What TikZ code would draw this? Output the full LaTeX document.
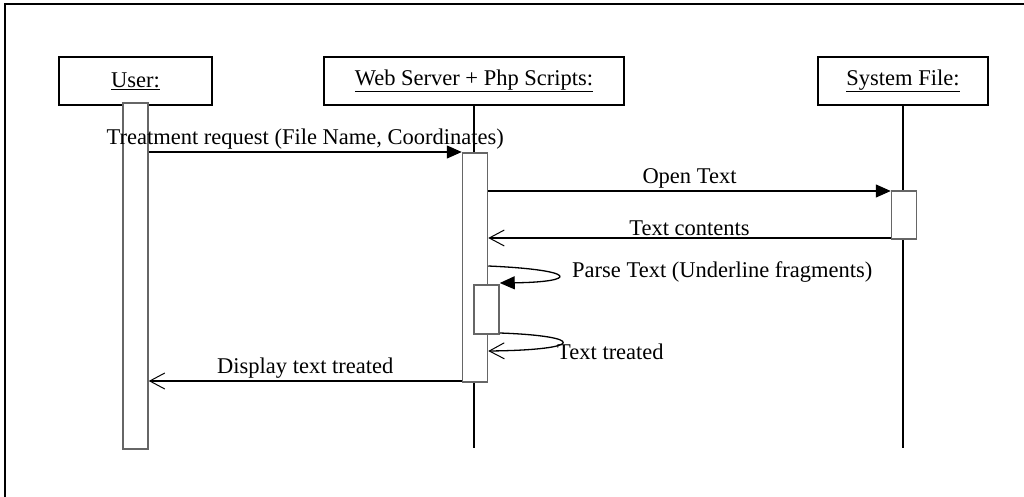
\documentclass[tikz,border=0pt]{standalone}
\usepackage{fontspec}
\setmainfont{Liberation Serif}
\usetikzlibrary{arrows.meta}
\tikzset{
  head/.style={draw,line width=1.5pt,minimum width=#1,minimum height=48pt,inner sep=0pt,font=\fontsize{22.5}{26}\selectfont},
  bar/.style={draw=black!60,fill=white,line width=1.5pt,minimum width=25pt,inner sep=0pt},
  life/.style={line width=2pt},
  call/.style={line width=1.3pt,-{Triangle[length=15pt,width=13pt]}},
  back/.style={line width=1.3pt,-{Straight Barb[length=15pt,width=16pt,line width=1pt]}},
  lbl/.style={font=\fontsize{22.5}{26}\selectfont,inner sep=2pt}
}
\begin{document}
\begin{tikzpicture}[x=1pt,y=-1pt]
    \useasboundingbox (0,0) rectangle (1024,497);
    % frame
    \draw[line width=2.5pt] (1024,4) -- (5,4) -- (5,497);

    \node[head=153pt] (user) at (135.5,81) {\underline{User:}};
    \node[head=300pt] (web) at (474,81) {\underline{Web Server + Php Scripts:}};
    \node[head=170pt] (sys) at (903,81) {\underline{System File:}};

    \coordinate (wend) at (474,448);
    \coordinate (send) at (903,448);
    \draw[life] (web.south) -- (wend);
    \draw[life] (sys.south) -- (send);

    \node[bar,minimum height=346pt] (ubar) at (135.5,276) {};
    \node[bar,minimum height=229pt] (wbar) at (475,267.5) {};
    \node[bar,minimum height=48pt] (sbar) at (904,215) {};
    \node[bar,minimum height=49pt] (nbar) at (486.5,309.5) {};

    \coordinate (m1) at (0,152);
    \coordinate (m2) at (0,191);
    \coordinate (m3) at (0,238);
    \coordinate (p1) at (0,266);
    \coordinate (p2) at (0,283);
    \coordinate (q1) at (0,333);
    \coordinate (q2) at (0,351);
    \coordinate (m6) at (0,381);

    \draw[call] (ubar.east |- m1) -- node[lbl,above] {Treatment request (File Name, Coordinates)} (wbar.west |- m1);
    \draw[call] (wbar.east |- m2) -- node[lbl,above] {Open Text} (sbar.west |- m2);
    \draw[back] (sbar.west |- m3) -- node[lbl,above] {Text contents} (wbar.east |- m3);

    \draw[call] (wbar.east |- p1) .. controls +(91,4) and +(79,-1) .. (nbar.east |- p2);
    \node[lbl,anchor=west] (plbl) at (570,272) {Parse Text (Underline fragments)};
    \draw[back] (nbar.east |- q1) .. controls +(86,3) and +(98,-1) .. (wbar.east |- q2);
    \node[lbl,anchor=west] (tlbl) at (555,352) {Text treated};

    \draw[back] (wbar.west |- m6) -- node[lbl,above] {Display text treated} (ubar.east |- m6);
\end{tikzpicture}
\end{document}
